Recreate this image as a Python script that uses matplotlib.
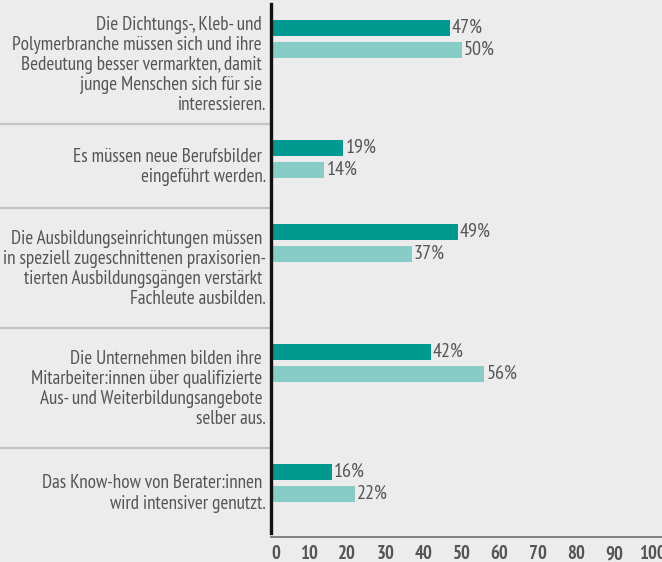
import numpy as np
import matplotlib.pyplot as plt
from matplotlib.transforms import blended_transform_factory
from matplotlib.lines import Line2D

plt.rcParams['font.family'] = ['PT Sans Narrow', 'DejaVu Sans']

labels = [
    "Die Dichtungs-, Kleb- und \nPolymerbranche müssen sich und ihre \nBedeutung besser vermarkten, damit \njunge Menschen sich für sie \ninteressieren.",
    "Es müssen neue Berufsbilder \neingeführt werden.",
    "Die Ausbildungseinrichtungen müssen \nin speziell zugeschnittenen praxisorien-\ntierten Ausbildungsgängen verstärkt \nFachleute ausbilden.",
    "Die Unternehmen bilden ihre \nMitarbeiter:innen über qualifizierte \nAus- und Weiterbildungsangebote \nselber aus.",
    "Das Know-how von Berater:innen \nwird intensiver genutzt.",
]
series_a = [47, 19, 49, 42, 16]
series_b = [50, 14, 37, 56, 22]
ticks = list(range(0, 101, 10))

# section heights in pixels (depend on number of text lines)
section_h = np.array([120, 84, 120, 120, 89])
tops = np.concatenate([[0], np.cumsum(section_h)[:-1]])
total = section_h.sum()

dark = '#009990'
light = '#88ccc8'
bg = '#ececec'
txt = '#555555'

W, H = 662, 562
fig = plt.figure(figsize=(W / 100, H / 100), dpi=100, facecolor=bg)
left, right, top, bottom = 271, 662, 4, 537
ax = fig.add_axes([left / W, (H - bottom) / H, (right - left) / W, (bottom - top) / H])
ax.set_facecolor(bg)

xmax = 100 * (right - left) / 381
ax.set_xlim(0, xmax)
ax.set_ylim(total, 0)

bar_h = 16
ya = tops + 24
yb = tops + 46
ax.barh(ya, series_a, height=bar_h, color=dark)
ax.barh(yb, series_b, height=bar_h, color=light)

for y, v in zip(ya, series_a):
    ax.annotate(f"{v}%", (v, y), xytext=(2, 0), textcoords='offset pixels',
                va='center', ha='left', color=txt, fontsize=14.5)
for y, v in zip(yb, series_b):
    ax.annotate(f"{v}%", (v, y), xytext=(2, 0), textcoords='offset pixels',
                va='center', ha='left', color=txt, fontsize=14.5)

# category labels, centred in their section
tr = blended_transform_factory(fig.transFigure, ax.transData)
for t, h, lab in zip(tops, section_h, labels):
    fig.text(266 / W, t + h / 2 + 1, lab, transform=tr, ha='right', va='center',
             multialignment='right', color=txt, fontsize=13.8, linespacing=1.15)

# separator lines across the whole width
for t in tops[1:]:
    fig.add_artist(Line2D([0, 1], [t, t], transform=tr, color='#c4c4c4', lw=1.6, zorder=0))

for s in ['top', 'right']:
    ax.spines[s].set_visible(False)
ax.spines['left'].set_color('#111111')
ax.spines['left'].set_linewidth(2.4)
ax.spines['left'].set_bounds(total - 4, 0)
ax.spines['bottom'].set_color('#777777')
ax.spines['bottom'].set_linewidth(1.3)

ax.set_yticks([])
ax.set_xticks(ticks)
ax.set_xticklabels([str(t) for t in ticks], fontweight='bold', color=txt, fontsize=13.5)
ax.tick_params(axis='x', length=0, pad=6)
tl = ax.get_xticklabels()
tl[0].set_horizontalalignment('left')

fig.savefig('out.png', dpi=100, facecolor=bg)
